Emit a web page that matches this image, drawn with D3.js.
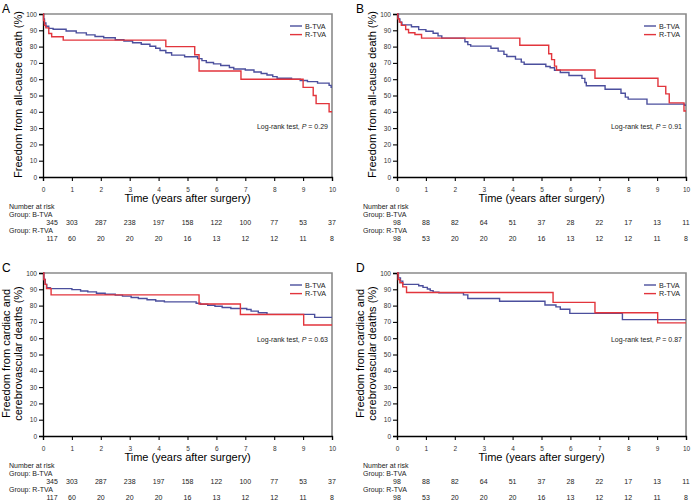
<!DOCTYPE html>
<html><head><meta charset="utf-8">
<script src="https://cdn.jsdelivr.net/npm/d3@7"></script>
<style>body{margin:0;background:#fff}svg{display:block;font-family:"Liberation Sans",Arial,sans-serif}</style>
</head><body>
<svg id="c" width="691" height="503"></svg>
<script>
// ---------- data ----------
const yTicks = [0,10,20,30,40,50,60,70,80,90,100];
const xTicks = [0,1,2,3,4,5,6,7,8,9,10];
const seriesNames = ["B-TVA","R-TVA"];

const aBlue = [[0,100],[0.02,97],[0.05,94.5],[0.1,92.5],[0.2,91.2],[0.35,90.6],[0.8,89.6],[1.15,88.4],[1.5,87.2],[1.8,86.2],[2.1,85.4],[2.5,84.2],[2.8,83.4],[3.1,82.4],[3.4,81.4],[3.7,80.2],[3.9,79],[4.05,77.6],[4.25,76.2],[4.45,74.8],[4.9,73.8],[5.35,72.6],[5.5,71.4],[5.65,70.2],[5.9,69.4],[6.15,68.4],[6.45,67.2],[6.6,66.3],[7.0,65.6],[7.3,64.4],[7.55,63.5],[7.75,62.6],[7.95,61.6],[8.1,60.6],[8.6,60],[8.9,59.2],[9.15,58.5],[9.5,57.6],[9.9,56.2],[9.97,55],[10,55]];
const aRed = [[0,100],[0.02,96],[0.05,93],[0.1,91.5],[0.2,88],[0.3,86],[0.7,84],[4.25,80],[5.25,75],[5.4,65],[6.85,60],[9.0,55],[9.35,50],[9.45,45],[9.9,40],[10,40]];

const bBlue = [[0,100],[0.05,97],[0.1,95],[0.17,93.3],[0.5,92.2],[0.75,90.4],[1.0,89.4],[1.25,88.2],[1.42,86.6],[1.55,85.2],[2.35,83],[2.45,81.2],[2.55,80.3],[3.25,79],[3.5,77.2],[3.7,75.2],[3.8,73.9],[4.1,72.3],[4.3,70.5],[4.4,69.2],[5.15,67.8],[5.3,67],[5.45,65.5],[5.65,64.1],[5.95,62.3],[6.4,60.5],[6.5,58],[6.55,56],[7.2,53.8],[7.75,51.4],[7.9,49],[8.0,47.8],[8.65,44.7],[9.95,44.0],[10,44]];
const bRed = [[0,100],[0.03,97],[0.08,95],[0.15,93],[0.3,90.5],[0.4,88.5],[0.62,87.4],[0.85,85.2],[4.25,80.8],[5.25,75.6],[5.35,72],[5.45,68],[5.52,65.6],[6.85,60.6],[9.03,55.6],[9.3,51],[9.42,45.5],[9.93,40.5],[10,40.5]];

const cBlue = [[0,100],[0.03,96],[0.08,93],[0.13,91],[0.25,90.4],[1.0,89.8],[1.3,89],[1.55,88.4],[1.85,87.6],[2.15,87],[2.5,86.4],[2.75,85.8],[3.05,85],[3.3,84.4],[3.6,83.6],[3.9,82.8],[4.2,82.3],[5.3,81.4],[5.45,80.8],[5.7,80.2],[5.95,79.6],[6.2,78.8],[6.5,78.2],[7.05,77.6],[7.2,76.6],[7.45,75.6],[7.75,74.6],[9.4,72.8],[10,72.8]];
const cRed = [[0,100],[0.03,96],[0.07,93],[0.12,90.5],[0.28,86.6],[5.4,81],[6.83,74.5],[9.02,68.1],[10,68.1]];

const dBlue = [[0,100],[0.05,97],[0.12,95],[0.2,93],[0.75,92.2],[0.9,91.2],[1.05,90.2],[1.15,89.2],[1.25,88.2],[1.45,87.8],[2.3,86.6],[2.45,84.4],[3.55,82.7],[5.12,80.4],[5.5,79.2],[5.65,77.8],[5.98,75.2],[7.8,71.4],[10,71.4]];
const dRed = [[0,100],[0.04,96],[0.1,94],[0.2,91.5],[0.33,88],[5.4,82],[6.85,75.6],[9.02,69.4],[10,69.4]];

const riskLargeB = [345,303,287,238,197,158,122,100,77,53,37];
const riskLargeR = [117,60,20,20,20,16,13,12,12,11,8];
const riskSmallB = [98,88,82,64,51,37,28,22,17,13,11];
const riskSmallR = [98,53,20,20,20,16,13,12,12,11,8];

const pValues = ["0.29","0.91","0.63","0.87"];
const panelLetters = ["A","B","C","D"];
const yTitleAll = ["Freedom from all-cause death (%)"];
const yTitleCardiac = ["Freedom from cardiac and","cerebrovascular deaths (%)"];

// ---------- layout ----------
const colors = ["#4b4f9d","#e2353c"];
const panels = [
  {x0:43, x1:332, y0:14, y1:177, blue:aBlue, red:aRed, rb:riskLargeB, rr:riskLargeR, title:yTitleAll, firstOff:9},
  {x0:397, x1:686, y0:14, y1:177, blue:bBlue, red:bRed, rb:riskSmallB, rr:riskSmallR, title:yTitleAll, firstOff:0},
  {x0:43, x1:332, y0:273, y1:436, blue:cBlue, red:cRed, rb:riskLargeB, rr:riskLargeR, title:yTitleCardiac, firstOff:9},
  {x0:397, x1:686, y0:273, y1:436, blue:dBlue, red:dRed, rb:riskSmallB, rr:riskSmallR, title:yTitleCardiac, firstOff:0}
];

const svg = d3.select("#c");

panels.forEach((p,i)=>{
  const x = d3.scaleLinear().domain([0,10]).range([p.x0,p.x1]);
  const y = d3.scaleLinear().domain([0,100]).range([p.y1,p.y0]);
  const g = svg.append("g");

  // frame (top & right, gray)
  g.append("path").attr("d",`M${p.x0},${p.y0}H${p.x1}V${p.y1}`)
    .attr("fill","none").attr("stroke","#8a8a8a").attr("stroke-width",1.6);

  // axes
  const xa = g.append("g").attr("transform",`translate(0,${p.y1})`)
    .call(d3.axisBottom(x).tickValues(xTicks).tickSize(4).tickPadding(6).tickFormat(d3.format("d")));
  const ya = g.append("g").attr("transform",`translate(${p.x0},0)`)
    .call(d3.axisLeft(y).tickValues(yTicks).tickSize(4).tickPadding(2).tickFormat(d3.format("d")));
  [xa,ya].forEach(a=>{
    a.select(".domain").attr("stroke","#000").attr("stroke-width",1.3);
    a.selectAll(".tick line").attr("stroke","#000").attr("stroke-width",1.1);
    a.selectAll(".tick text").attr("font-size",6.5).attr("fill","#333")
      .attr("font-family","Liberation Sans, Arial, sans-serif");
  });

  // curves
  const line = d3.line().x(d=>x(d[0])).y(d=>y(d[1])).curve(d3.curveStepAfter);
  [p.blue,p.red].forEach((s,k)=>{
    g.append("path").datum(s).attr("d",line).attr("fill","none")
      .attr("stroke",colors[k]).attr("stroke-width",1.4);
  });

  // legend
  seriesNames.forEach((n,k)=>{
    const ly = p.y0 + 12 + k*8.6;
    g.append("line").attr("x1",p.x1-42).attr("x2",p.x1-30).attr("y1",ly).attr("y2",ly)
      .attr("stroke",colors[k]).attr("stroke-width",1.4);
    g.append("text").attr("x",p.x1-27).attr("y",ly+2.5).attr("font-size",7.2).attr("fill","#222").text(n);
  });

  // log-rank
  const lr = g.append("text").attr("x",p.x1-4).attr("y", i<2 ? p.y0+115 : p.y0+69)
    .attr("text-anchor","end").attr("font-size",7).attr("fill","#222");
  lr.append("tspan").text("Log-rank test, ");
  lr.append("tspan").attr("font-style","italic").text("P");
  lr.append("tspan").text(" = " + pValues[i]);

  // panel letter
  g.append("text").attr("x", p.x0-41).attr("y", p.y0-1).attr("font-size",12).attr("fill","#000").text(panelLetters[i]);

  // y title
  const cy = (p.y0+p.y1)/2 - 1;
  if (p.title.length===1){
    g.append("text").attr("transform",`translate(${p.x0-21},${cy}) rotate(-90)`)
      .attr("text-anchor","middle").attr("font-size",11).attr("fill","#000").text(p.title[0]);
  } else {
    p.title.forEach((t,k)=>{
      g.append("text").attr("transform",`translate(${p.x0-33+k*12},${cy}) rotate(-90)`)
        .attr("text-anchor","middle").attr("font-size",11).attr("fill","#000").text(t);
    });
  }

  // x title
  g.append("text").attr("x",(p.x0+p.x1)/2).attr("y",p.y1+25).attr("text-anchor","middle")
    .attr("font-size",11).attr("fill","#000").text("Time (years after surgery)");

  // number at risk
  const lx = p.x0-34;
  g.append("text").attr("x",lx).attr("y",p.y1+32).attr("font-size",7).attr("fill","#222").text("Number at risk");
  g.append("text").attr("x",lx).attr("y",p.y1+40).attr("font-size",7).attr("fill","#222").text("Group: B-TVA");
  g.append("text").attr("x",lx).attr("y",p.y1+56).attr("font-size",7).attr("fill","#222").text("Group: R-TVA");
  [[p.rb,48],[p.rr,64]].forEach(([arr,dy])=>{
    g.selectAll(null).data(arr).enter().append("text")
      .attr("x",(d,j)=>x(xTicks[j]) + (j===0?p.firstOff:0))
      .attr("y",p.y1+dy).attr("text-anchor","middle").attr("font-size",7).attr("fill","#222")
      .text(d=>d);
  });
});
</script>
</body></html>
